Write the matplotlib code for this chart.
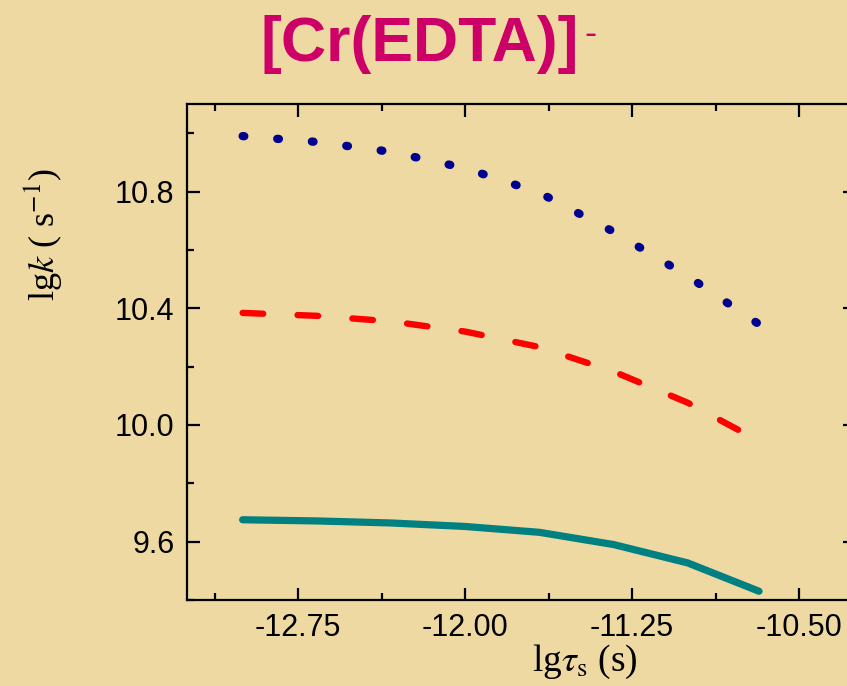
import matplotlib
matplotlib.use('Agg')
import matplotlib.pyplot as plt
from matplotlib.ticker import MultipleLocator, FixedLocator, FixedFormatter

# ---- data ----
lg_tau = [-13.0, -12.667, -12.333, -12.0, -11.667, -11.333, -11.0, -10.68]
lgk_dotted = [10.990, 10.970, 10.936, 10.880, 10.796, 10.662, 10.510, 10.345]
lgk_dashed = [10.384, 10.374, 10.355, 10.320, 10.267, 10.183, 10.076, 9.945]
lgk_solid = [9.675, 9.671, 9.664, 9.652, 9.632, 9.590, 9.527, 9.430]

x_ticks = [-12.75, -12.00, -11.25, -10.50]
x_ticklabels = ['-12.75', '-12.00', '-11.25', '-10.50']
y_ticks = [9.6, 10.0, 10.4, 10.8]
y_ticklabels = ['9.6', '10.0', '10.4', '10.8']

title_text = '[Cr(EDTA)]'
title_sup = '-'
xlabel_text = r'lg$\tau_{\mathrm{s}}$ (s)'
ylabel_text = r'lg$k$ ( s$^{\mathrm{-1}}$)'

plt.rcParams['mathtext.fontset'] = 'stix'
plt.rcParams['axes.unicode_minus'] = False

BG = '#EFD9A3'
fig = plt.figure(figsize=(8.47, 6.86), dpi=100, facecolor=BG)
ax = fig.add_axes([187/847, 1-600/686, (854.7-187)/847, 496/686])
ax.set_facecolor('none')

ax.plot(lg_tau, lgk_dotted, color='#000090', lw=6.0, linestyle=(0, (0.2, 3.965)),
        dash_capstyle='round', solid_capstyle='round')
ax.plot(lg_tau, lgk_dashed, color='#FF0000', lw=4.6, linestyle=(0, (3.22, 5.38)),
        dash_capstyle='round', solid_capstyle='round')
ax.plot(lg_tau, lgk_solid, color='#008080', lw=5.2, solid_capstyle='round',
        solid_joinstyle='round')

ax.set_xlim(-13.25, -10.25)
ax.set_ylim(9.4, 11.1)

ax.xaxis.set_major_locator(FixedLocator(x_ticks))
ax.xaxis.set_major_formatter(FixedFormatter(x_ticklabels))
ax.xaxis.set_minor_locator(MultipleLocator(0.375))
ax.yaxis.set_major_locator(FixedLocator(y_ticks))
ax.yaxis.set_major_formatter(FixedFormatter(y_ticklabels))
ax.yaxis.set_minor_locator(MultipleLocator(0.2))

for s in ax.spines.values():
    s.set_linewidth(1.6)
    s.set_color('black')

ax.tick_params(which='both', direction='in', top=True, right=True,
               width=1.6, color='black')
ax.tick_params(which='major', length=9, labelsize=22, pad=9)
ax.tick_params(which='minor', length=5)
for lab in ax.get_xticklabels() + ax.get_yticklabels():
    lab.set_fontfamily('Liberation Sans')

fig.text(420/847, 1-44/686, title_text, ha='center', va='center',
         fontsize=45, fontweight='bold', color='#CC0066',
         family='Liberation Sans')
fig.text(590/847, 1-34/686, title_sup, ha='center', va='center',
         fontsize=26, color='#CC0066', family='Liberation Sans')

fig.text(585/847, 1-662/686, xlabel_text, ha='center', va='center',
         fontsize=27, family='Liberation Serif')
fig.text(42/847, 1-235/686, ylabel_text, ha='center', va='center',
         rotation=90, fontsize=26, family='Liberation Serif')

fig.savefig('out.png', dpi=100, facecolor=BG)
